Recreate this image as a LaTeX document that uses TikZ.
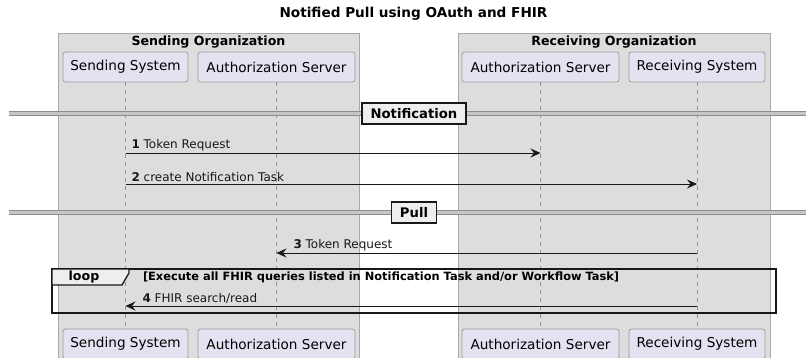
\documentclass[tikz,border=0pt]{standalone}
\usepackage{fontspec}
\setmainfont{DejaVu Sans}
\usetikzlibrary{arrows.meta, calc, positioning}

\definecolor{orgfill}{HTML}{DDDDDD}
\definecolor{orgline}{HTML}{A8A8A8}
\definecolor{partfill}{HTML}{E2E2F0}
\definecolor{partline}{HTML}{9C9C9C}
\definecolor{ink}{HTML}{181818}
\definecolor{tabfill}{HTML}{EEEEEE}

\begin{document}
\begin{tikzpicture}
  [
    x = 1pt, y = -1pt,
    every node/.style = {inner sep = 0pt, outer sep = 0pt},
    org/.style = {draw = orgline, fill = orgfill, line width = 0.8pt},
    orgtitle/.style = {font = \fontsize{12.6}{15}\bfseries},
    party/.style = {draw = partline, fill = partfill, line width = 0.8pt,
                    rounded corners = 2.5pt, minimum height = 30pt,
                    font = \fontsize{13.6}{16}\selectfont},
    life/.style = {draw = gray!85, line width = 0.7pt, dash pattern = on 4pt off 4pt},
    divider/.style = {draw = gray!90, double = gray!45, double distance = 2.4pt, line width = 1pt},
    divlabel/.style = {draw = ink, fill = tabfill, line width = 1.4pt,
                       minimum height = 21pt, inner xsep = 8.5pt,
                       font = \fontsize{13.2}{15}\bfseries},
    msg/.style = {draw = ink, line width = 0.8pt, -{Stealth[length = 10pt, width = 9pt, inset = 3.5pt]}},
    msgtext/.style = {font = \fontsize{12}{14}\selectfont, text = ink, anchor = south west},
    loopframe/.style = {draw = ink, line width = 1.3pt}
  ]
  \clip (0,0) rectangle (806,357);

  % title
  \node (Title) at (413.5,14) {\fontsize{13.6}{16}\bfseries Notified Pull using OAuth and FHIR};

  % organization boxes
  \path [org] (58,33) rectangle (359,360);
  \path [org] (458,33) rectangle (770,360);
  \node [orgtitle] (SendOrg) at (208.5,42) {Sending Organization};
  \node [orgtitle] (RecvOrg) at (614,42) {Receiving Organization};

  % participants, top and bottom
  \node [party, minimum width = 125pt] (SS)  at (125.5,67) {Sending System};
  \node [party, minimum width = 157pt] (SA)  at (276.5,67) {Authorization Server};
  \node [party, minimum width = 157pt] (RA)  at (540.5,67) {Authorization Server};
  \node [party, minimum width = 136pt] (RS)  at (697,67)   {Receiving System};
  \node [party, minimum width = 125pt] (SSb) at (125.5,344) {Sending System};
  \node [party, minimum width = 157pt] (SAb) at (276.5,344) {Authorization Server};
  \node [party, minimum width = 157pt] (RAb) at (540.5,344) {Authorization Server};
  \node [party, minimum width = 136pt] (RSb) at (697,344)   {Receiving System};

  % lifelines
  \foreach \p in {SS, SA, RA, RS}
    \path [life] (\p.south) -- (\p b.north);

  % notification divider
  \coordinate (NotL) at (9,113.5);
  \coordinate (NotR) at (806,113.5);
  \path [divider] (NotL) -- (NotR);
  \node [divlabel] (Notif) at (414,113.5) {Notification};

  % messages 1 and 2
  \coordinate (m1s) at (SS.south |- 0,153);
  \coordinate (m1e) at (RA.south |- 0,153);
  \draw [msg] (m1s) -- (m1e);
  \node [msgtext] (t1) at ($(m1s)+(6,-2)$) {\textbf{1} Token Request};
  \coordinate (m2s) at (SS.south |- 0,184);
  \coordinate (m2e) at (RS.south |- 0,184);
  \draw [msg] (m2s) -- (m2e);
  \node [msgtext] (t2) at ($(m2s)+(6,-2)$) {\textbf{2} create Notification Task};

  % pull divider
  \coordinate (PullL) at (9,212.5);
  \coordinate (PullR) at (806,212.5);
  \path [divider] (PullL) -- (PullR);
  \node [divlabel] (Pull) at (414,212.5) {Pull};

  % message 3
  \coordinate (m3s) at (RS.south |- 0,253);
  \coordinate (m3e) at (SA.south |- 0,253);
  \draw [msg] (m3s) -- (m3e);
  \node [msgtext] (t3) at ($(m3e)+(17,-2)$) {\textbf{3} Token Request};

  % loop frame
  \path [loopframe] (52,269) rectangle (776,313);
  \path [loopframe, fill = tabfill] (52,269) -- (129,269) -- (129,273) -- (122,285) -- (52,285) -- cycle;
  \node (LoopTag) at (84,277) {\fontsize{12.6}{15}\bfseries loop};
  \node [anchor = west] (LoopCond) at (143,277)
    {\fontsize{11.4}{13}\bfseries [Execute all FHIR queries listed in Notification Task and/or Workflow Task]};

  % message 4
  \coordinate (m4s) at (RS.south |- 0,306);
  \coordinate (m4e) at (SS.south |- 0,306);
  \draw [msg] (m4s) -- (m4e);
  \node [msgtext] (t4) at ($(m4e)+(17,-2)$) {\textbf{4} FHIR search/read};
\end{tikzpicture}
\end{document}
